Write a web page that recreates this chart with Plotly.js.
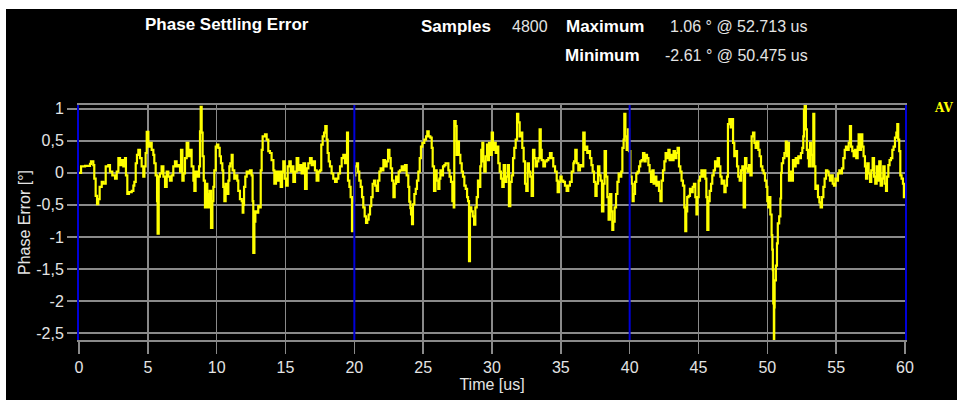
<!DOCTYPE html>
<html>
<head>
<meta charset="utf-8">
<script src="https://cdn.plot.ly/plotly-3.0.1.min.js"></script>
<style>
  html, body { margin:0; padding:0; background:#ffffff; width:957px; height:403px; overflow:hidden; }
  #chart { position:absolute; left:6px; top:9px; width:951px; height:391px; }
</style>
</head>
<body>
<div id="chart"></div>
<script>
// ---- data (time in us, phase error in degrees) ----
const time = [
  0, 0.15, 0.44, 0.80, 0.87, 1.04, 1.11, 1.21, 1.31, 1.40,
  1.50, 1.65, 1.77, 1.94, 2.13, 2.25, 2.42, 2.62, 2.74, 2.86,
  2.98, 3.10, 3.22, 3.34, 3.41, 3.51, 3.63, 3.83, 3.95, 4.02,
  4.12, 4.21, 4.31, 4.43, 4.55, 4.67, 4.75, 4.84, 4.92, 5.04,
  5.16, 5.28, 5.40, 5.47, 5.57, 5.67, 5.71, 5.79, 5.88, 6.00,
  6.13, 6.25, 6.37, 6.49, 6.61, 6.73, 6.85, 6.97, 7.09, 7.22,
  7.34, 7.41, 7.51, 7.60, 7.70, 7.82, 7.94, 8.06, 8.18, 8.31,
  8.38, 8.47, 8.62, 8.72, 8.79, 8.84, 8.91, 8.98, 9.06, 9.15,
  9.23, 9.32, 9.39, 9.49, 9.59, 9.69, 9.76, 9.83, 9.93, 10.02,
  10.12, 10.22, 10.31, 10.41, 10.48, 10.56, 10.65, 10.75, 10.85, 10.92,
  10.99, 11.09, 11.16, 11.28, 11.38, 11.50, 11.57, 11.69, 11.82, 11.89,
  11.94, 11.99, 12.08, 12.18, 12.30, 12.42, 12.54, 12.61, 12.66, 12.74,
  12.81, 12.90, 13.02, 13.10, 13.20, 13.27, 13.34, 13.51, 13.63, 13.75,
  13.87, 13.99, 14.12, 14.19, 14.31, 14.40, 14.55, 14.65, 14.75, 14.84,
  14.94, 15.04, 15.16, 15.28, 15.38, 15.50, 15.57, 15.69, 15.81, 15.93,
  16.05, 16.17, 16.30, 16.42, 16.54, 16.66, 16.78, 16.90, 17.02, 17.14,
  17.26, 17.39, 17.51, 17.60, 17.70, 17.80, 17.89, 17.99, 18.06, 18.14,
  18.23, 18.35, 18.47, 18.60, 18.72, 18.84, 18.96, 19.08, 19.20, 19.32,
  19.39, 19.47, 19.54, 19.64, 19.73, 19.83, 19.88, 19.98, 20.07, 20.17,
  20.27, 20.36, 20.46, 20.56, 20.65, 20.75, 20.85, 20.94, 21.04, 21.14,
  21.23, 21.33, 21.43, 21.52, 21.62, 21.72, 21.82, 21.91, 22.01, 22.11,
  22.23, 22.35, 22.45, 22.55, 22.64, 22.74, 22.84, 22.93, 23.03, 23.12,
  23.22, 23.32, 23.44, 23.56, 23.68, 23.80, 23.92, 23.99, 24.07, 24.12,
  24.19, 24.26, 24.36, 24.46, 24.55, 24.65, 24.75, 24.84, 24.94, 25.08,
  25.21, 25.30, 25.40, 25.52, 25.62, 25.69, 25.79, 25.89, 25.98, 26.10,
  26.18, 26.25, 26.35, 26.44, 26.54, 26.63, 26.73, 26.83, 26.92, 27.02,
  27.12, 27.22, 27.26, 27.36, 27.43, 27.51, 27.60, 27.70, 27.80, 27.89,
  27.99, 28.09, 28.19, 28.26, 28.33, 28.40, 28.50, 28.60, 28.70, 28.79,
  28.89, 28.98, 29.06, 29.15, 29.22, 29.30, 29.37, 29.44, 29.54, 29.64,
  29.71, 29.78, 29.88, 29.98, 30.07, 30.17, 30.27, 30.36, 30.46, 30.56,
  30.65, 30.75, 30.85, 30.94, 31.04, 31.14, 31.23, 31.33, 31.43, 31.53,
  31.62, 31.72, 31.82, 31.91, 32.01, 32.11, 32.20, 32.30, 32.40, 32.49,
  32.59, 32.68, 32.78, 32.88, 32.98, 33.08, 33.17, 33.27, 33.37, 33.46,
  33.54, 33.61, 33.73, 33.85, 33.97, 34.09, 34.21, 34.33, 34.45, 34.58,
  34.70, 34.77, 34.87, 34.97, 35.06, 35.18, 35.30, 35.42, 35.54, 35.66,
  35.79, 35.91, 35.96, 36.05, 36.15, 36.27, 36.39, 36.51, 36.63, 36.73,
  36.83, 36.92, 37.02, 37.12, 37.22, 37.31, 37.41, 37.51, 37.60, 37.70,
  37.80, 37.89, 37.99, 38.09, 38.18, 38.28, 38.38, 38.47, 38.57, 38.67,
  38.74, 38.81, 38.91, 39.01, 39.11, 39.20, 39.30, 39.39, 39.47, 39.56,
  39.61, 39.69, 39.78, 39.88, 39.95, 40.05, 40.15, 40.22, 40.29, 40.39,
  40.48, 40.58, 40.68, 40.77, 40.87, 40.97, 41.07, 41.16, 41.26, 41.36,
  41.45, 41.55, 41.65, 41.74, 41.84, 41.94, 42.03, 42.13, 42.23, 42.32,
  42.42, 42.52, 42.61, 42.71, 42.81, 42.90, 43.00, 43.10, 43.19, 43.29,
  43.39, 43.48, 43.58, 43.68, 43.77, 43.87, 43.97, 44.04, 44.11, 44.18,
  44.28, 44.38, 44.48, 44.58, 44.67, 44.77, 44.85, 44.92, 45.01, 45.11,
  45.21, 45.30, 45.40, 45.50, 45.57, 45.64, 45.72, 45.81, 45.91, 46.00,
  46.10, 46.20, 46.30, 46.39, 46.49, 46.59, 46.68, 46.78, 46.88, 46.97,
  47.07, 47.14, 47.24, 47.34, 47.43, 47.51, 47.60, 47.70, 47.80, 47.89,
  47.99, 48.09, 48.18, 48.28, 48.38, 48.48, 48.57, 48.67, 48.77, 48.86,
  48.96, 49.06, 49.15, 49.25, 49.35, 49.44, 49.54, 49.64, 49.73, 49.83,
  49.93, 50.00, 50.07, 50.15, 50.22, 50.31, 50.36, 50.40, 50.43, 50.475,
  50.50, 50.53, 50.62, 50.70, 50.76, 50.86, 50.95, 51.00, 51.05, 51.15,
  51.24, 51.34, 51.41, 51.48, 51.57, 51.67, 51.77, 51.86, 51.96, 52.06,
  52.15, 52.25, 52.35, 52.44, 52.54, 52.61, 52.66, 52.713, 52.80, 52.87,
  52.95, 53.02, 53.10, 53.17, 53.27, 53.34, 53.41, 53.49, 53.58, 53.68,
  53.78, 53.87, 53.97, 54.07, 54.16, 54.26, 54.36, 54.45, 54.55, 54.65,
  54.75, 54.84, 54.94, 55.04, 55.13, 55.23, 55.33, 55.42, 55.52, 55.62,
  55.71, 55.81, 55.91, 56.00, 56.08, 56.17, 56.27, 56.36, 56.46, 56.56,
  56.63, 56.70, 56.80, 56.90, 56.99, 57.09, 57.17, 57.26, 57.36, 57.46,
  57.55, 57.65, 57.75, 57.84, 57.94, 58.04, 58.13, 58.23, 58.33, 58.42,
  58.52, 58.62, 58.69, 58.79, 58.88, 58.98, 59.08, 59.17, 59.27, 59.37,
  59.44, 59.51, 59.58, 59.66, 59.75, 59.85, 59.92, 60.00
];
const phaseError = [
  0, 0.10, 0.11, 0.14, 0.18, 0.12, -0.09, -0.36, -0.49, -0.41,
  -0.22, -0.14, -0.17, 0.10, 0.12, 0.02, -0.04, -0.09, 0.02, 0.23,
  0.12, 0.20, 0.10, 0.23, -0.04, -0.33, -0.30, -0.28, -0.20, -0.14,
  0.15, 0.28, 0.36, 0.23, 0.10, -0.06, 0.10, 0.31, 0.64, 0.41,
  0.47, 0.36, 0.28, 0.15, -0.04, -0.44, -0.95, -0.06, -0.01, 0.10,
  -0.06, -0.22, 0.02, -0.06, -0.12, -0.04, 0.10, 0.18, 0.10, 0.12,
  0.02, 0.36, -0.12, -0.01, 0.23, 0.47, 0.26, 0.36, 0.10, -0.12,
  -0.28, 0.02, -0.06, 0.10, 0.65, 1.03, 0.63, 0.26, -0.12, -0.54,
  -0.17, -0.33, -0.54, -0.28, -0.86, -0.44, -0.22, 0.04, 0.41, 0.44,
  0.39, 0.26, 0.15, 0.04, -0.22, -0.44, -0.17, -0.33, -0.12, 0.10,
  0.15, 0.28, 0.04, -0.09, -0.04, -0.12, -0.28, -0.41, -0.44, -0.62,
  -0.50, -0.22, -0.06, 0.02, -0.01, 0.04, -0.04, -0.44, -1.25, -0.76,
  -0.60, -0.62, -0.52, -0.54, 0.04, 0.36, 0.57, 0.60, 0.52, 0.34,
  0.31, 0.20, 0.04, -0.17, 0.02, -0.12, 0.02, -0.22, 0.02, 0.18,
  -0.09, -0.20, 0.10, 0.18, 0.02, 0.10, -0.14, 0.02, 0.23, 0.04,
  0.12, -0.01, 0.15, -0.25, 0.07, 0.15, 0.23, 0.12, 0.18, 0.04,
  -0.12, 0.02, 0.04, 0.44, 0.57, 0.63, 0.73, 0.52, 0.31, 0.18,
  0.10, -0.01, -0.09, -0.14, -0.09, -0.01, 0.10, 0.23, 0.28, 0.15,
  0.26, 0.63, -0.12, -0.22, -0.38, -0.91, -0.44, -0.04, 0.10, 0.15,
  0.02, -0.12, -0.22, -0.38, -0.54, -0.68, -0.78, -0.73, -0.65, -0.52,
  -0.38, -0.17, -0.12, -0.20, -0.28, -0.12, 0.02, 0.07, 0.04, 0.20,
  0.10, 0.18, 0.36, 0.23, 0.07, -0.12, -0.38, -0.17, -0.06, -0.14,
  0.02, 0.04, 0.10, 0.04, 0.12, -0.04, -0.22, -0.45, -0.55, -0.65,
  -0.80, -0.49, -0.33, -0.25, -0.12, 0.02, 0.23, 0.41, 0.47, 0.52,
  0.57, 0.65, 0.57, 0.55, 0.39, 0.10, -0.28, 0.04, -0.12, -0.25,
  -0.09, 0.04, -0.04, 0.10, 0.12, 0.15, 0.15, 0.04, -0.06, -0.14,
  -0.44, -0.54, 0.81, 0.73, 0.28, 0.49, 0.28, 0.15, 0.02, -0.06,
  -0.20, -0.25, -0.38, -0.44, -1.38, -0.54, -0.60, -0.68, -0.81, -0.54,
  -0.38, -0.12, -0.22, 0.10, 0.36, 0.47, 0.18, 0.02, 0.26, 0.44,
  0.20, 0.47, 0.28, 0.63, 0.36, 0.47, 0.31, 0.41, 0.15, 0.02,
  -0.09, -0.22, 0.12, -0.14, -0.06, 0.12, -0.52, -0.14, -0.04, 0.23,
  0.39, 0.52, 0.92, 0.79, 0.57, 0.63, 0.39, 0.18, -0.17, -0.28,
  0.15, 0.02, -0.06, -0.36, 0.36, 0.23, 0.10, 0.18, 0.23, 0.68,
  0.36, 0.20, 0.10, 0.18, 0.20, 0.23, 0.31, 0.23, 0.10, 0.02,
  -0.12, -0.30, -0.14, -0.06, -0.12, -0.14, -0.20, -0.28, -0.20, -0.14,
  0.02, 0.15, 0.18, 0.36, 0.15, 0.04, 0.12, 0.10, 0.63, 0.36,
  0.41, 0.31, 0.34, 0.23, 0.12, 0.02, -0.14, -0.36, -0.17, 0.10,
  -0.04, -0.12, -0.60, -0.17, 0.34, -0.06, -0.38, -0.73, -0.33, -0.60,
  -0.89, -0.76, -0.54, -0.33, -0.14, -0.01, -0.06, 0.02, 0.39, 0.52,
  0.92, 0.57, 0.36, 0.68, 0.34, -0.06, -0.17, -0.44, -0.33, -0.14,
  -0.01, 0.02, 0.10, 0.18, 0.20, 0.31, 0.18, 0.28, 0.23, 0.12,
  0.02, -0.14, 0.04, -0.17, -0.06, -0.20, -0.14, -0.28, -0.44, -0.12,
  0.04, 0.18, 0.31, 0.23, 0.36, 0.20, 0.28, 0.20, 0.34, 0.23,
  0.31, 0.39, 0.10, 0.02, -0.12, -0.20, -0.54, -0.91, -0.60, -0.38,
  -0.36, -0.25, -0.30, -0.22, -0.17, -0.38, -0.65, -0.38, -0.12, -0.06,
  0.04, -0.06, 0.04, -0.09, -0.38, -0.89, -0.44, -0.28, -0.17, -0.04,
  0.04, 0.18, 0.10, 0.23, 0.10, -0.06, -0.17, -0.12, -0.30, -0.20,
  -0.06, 0.76, 0.84, 0.71, 0.84, 0.47, 0.26, 0.34, 0.10, -0.06,
  -0.12, 0.04, 0.10, -0.54, 0.23, 0.07, 0.02, 0.12, -0.04, 0.57,
  0.63, 0.47, 0.39, 0.49, 0.36, 0.26, 0.10, 0.04, -0.01, -0.12,
  -0.22, -0.44, -0.54, -0.38, -0.65, -0.97, -1.20, -1.52, -2.04, -2.61,
  -2.10, -1.68, -1.45, -1.10, -0.79, -0.68, -0.40, 0.00, 0.15, 0.23,
  0.31, 0.49, 0.26, 0.47, -0.12, 0.02, -0.12, 0.20, 0.10, 0.23,
  0.15, 0.26, 0.23, 0.31, 0.39, 0.57, 0.98, 1.06, 0.68, 0.36,
  0.23, 0.10, 0.47, 0.28, 0.10, 0.92, 0.10, -0.25, -0.20, -0.38,
  -0.46, -0.54, -0.38, -0.22, -0.09, 0.04, 0.02, -0.04, -0.12, -0.04,
  -0.17, -0.20, -0.09, -0.12, -0.01, 0.04, -0.01, 0.07, 0.23, 0.36,
  0.41, 0.36, 0.47, 0.73, 0.41, 0.34, 0.26, 0.36, 0.23, 0.41,
  0.60, 0.36, 0.60, 0.41, 0.26, 0.10, -0.09, 0.15, -0.01, -0.14,
  0.04, 0.23, -0.06, -0.17, 0.10, -0.12, 0.18, -0.20, -0.09, 0.10,
  -0.17, -0.28, -0.06, 0.12, 0.20, 0.23, 0.36, 0.41, 0.55, 0.63,
  0.76, 0.52, 0.34, -0.04, -0.09, -0.17, -0.38, -0.33
];

const xTickVals = [0, 5, 10, 15, 20, 25, 30, 35, 40, 45, 50, 55, 60];
const yTickVals = [1, 0.5, 0, -0.5, -1, -1.5, -2, -2.5];
const yTickText = ['1', '0,5', '0', '-0,5', '-1', '-1,5', '-2', '-2,5'];
const markerTimes = [20, 40];
const sampleCount = 4800;
const maxValue = '1.06 ° @ 52.713 us';
const minValue = '-2.61 ° @ 50.475 us';

// ---- styling ----
const GRID = '#8a8a8a';
const BLUE = '#0000d8';
const TXT = '#e4e4e4';
const FONT = 'Liberation Sans, Arial, sans-serif';

const trace = {
  type: 'scatter', mode: 'lines',
  x: time, y: phaseError,
  line: { color: '#ffff00', width: 2.2, shape: 'hv' },
  hoverinfo: 'skip'
};

function hdr(text, x, y, opts) {
  return Object.assign({
    text: text, xref: 'paper', yref: 'paper', x: x, y: y,
    xanchor: 'center', yanchor: 'middle', showarrow: false,
    font: { family: FONT, size: 17, color: '#ffffff', weight: 'bold' }
  }, opts || {});
}

const layout = {
  width: 951, height: 391,
  paper_bgcolor: '#000000', plot_bgcolor: '#000000',
  margin: { l: 73, r: 52, t: 96, b: 60 },
  showlegend: false,
  font: { family: FONT, color: TXT, size: 16 },
  xaxis: {
    range: [0, 60], tickmode: 'array', tickvals: xTickVals,
    ticks: 'outside', ticklen: 12, tickwidth: 1.5, tickcolor: GRID,
    showgrid: true, gridcolor: GRID, gridwidth: 1.5, zeroline: false,
    showline: true, mirror: true, linecolor: GRID, linewidth: 2,
    tickfont: { family: FONT, size: 16, color: TXT },
    title: { text: 'Time [us]', font: { family: FONT, size: 16, color: TXT }, standoff: 4 },
    automargin: false
  },
  yaxis: {
    range: [-2.61, 1.06], tickmode: 'array', tickvals: yTickVals, ticktext: yTickText,
    ticks: 'outside', ticklen: 10, tickwidth: 1.5, tickcolor: GRID,
    showgrid: true, gridcolor: GRID, gridwidth: 1.5, zeroline: false,
    showline: true, mirror: true, linecolor: BLUE, linewidth: 2,
    tickfont: { family: FONT, size: 16, color: TXT },
    title: { text: 'Phase Error [°]', font: { family: FONT, size: 16, color: TXT }, standoff: 2 },
    automargin: false
  },
  shapes: markerTimes.map(t => ({
    type: 'line', xref: 'x', yref: 'paper', x0: t, x1: t, y0: 0, y1: 1,
    layer: 'above', line: { color: BLUE, width: 2 }
  })),
  annotations: [
    hdr('Phase Settling Error', 0.1792, 1.342),
    hdr('Samples', 0.4564, 1.333),
    hdr(String(sampleCount), 0.5454, 1.333, { font: { family: FONT, size: 16, color: TXT } }),
    hdr('Maximum', 0.6368, 1.333),
    hdr(maxValue, 0.7131, 1.333, { xanchor: 'left', font: { family: FONT, size: 16, color: TXT } }),
    hdr('Minimum', 0.6338, 1.210),
    hdr(minValue, 0.7070, 1.210, { xanchor: 'left', font: { family: FONT, size: 16, color: TXT } }),
    hdr('AV', 1.0605, 0.987, { xanchor: 'right', font: { family: 'DejaVu Serif, serif', size: 12, color: '#ffff00', weight: 'bold' } })
  ]
};

Plotly.newPlot('chart', [trace], layout, { displayModeBar: false, staticPlot: true });
</script>
</body>
</html>
